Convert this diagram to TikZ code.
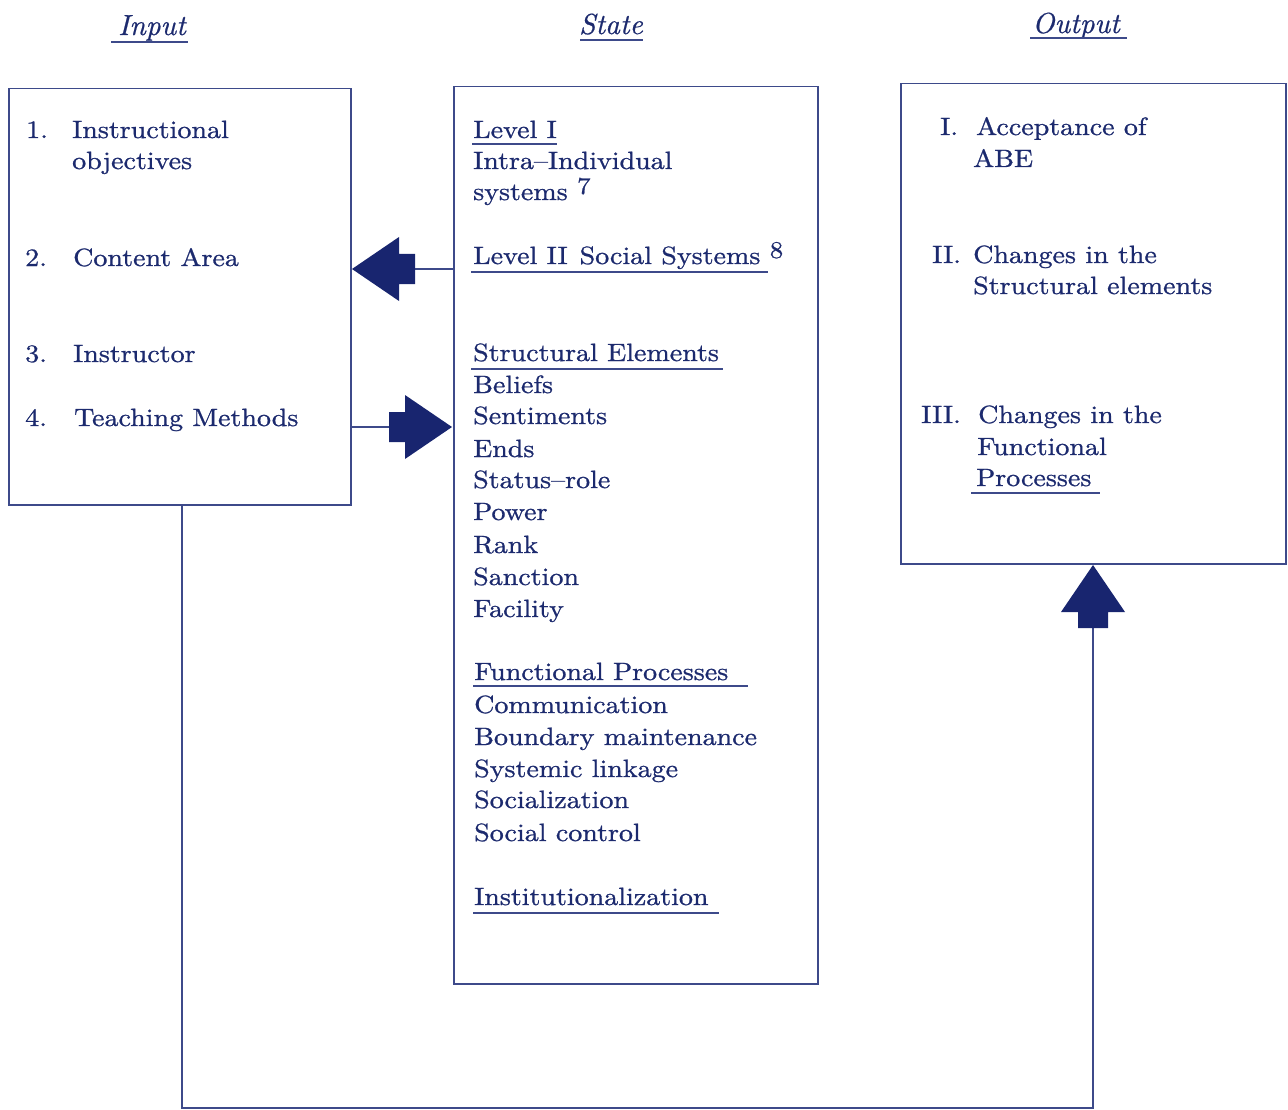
\documentclass[tikz,border=0pt]{standalone}
\usepackage{fontspec}
\setmainfont{lmroman10-regular.otf}[FakeStretch=1.12, FakeBold=0.9]
\newfontfamily\headfont{lmroman10-italic.otf}[FakeBold=0.6]
\usetikzlibrary{calc}
\definecolor{ink}{HTML}{1C2A6E}
\definecolor{rulecol}{HTML}{3D4A8A}
\definecolor{arrowfill}{HTML}{18256F}
\begin{document}
\begin{tikzpicture}[x=1pt,y=-1pt,
  lbl/.style={anchor=base west, inner sep=0pt, text=ink, font=\fontsize{25}{30}\selectfont},
  headlbl/.style={anchor=base, inner sep=0pt, text=ink, font=\headfont\fontsize{29}{34}\selectfont},
  suplbl/.style={anchor=base west, inner sep=0pt, text=ink, font=\fontsize{24}{28}\selectfont},
  box/.style={draw=rulecol, line width=1.5pt, anchor=north west, inner sep=0pt},
  uline/.style={draw=rulecol, line width=1.3pt},
  conn/.style={draw=rulecol, line width=1.5pt},
  fat/.pic={\fill[arrowfill] (0,0) -- (-47,-32) -- (-47,-15) -- (-63,-15) -- (-63,15) -- (-47,15) -- (-47,32) -- cycle;}
]
\useasboundingbox (0,0) rectangle (1288,1110);

% headings
\node[headlbl] (hin) at (152,35) {Input};
\node[headlbl] (hst) at (611,34) {State};
\node[headlbl] (hout) at (1076,33) {Output};
\draw[uline] (111,42) -- (188,42);
\draw[uline] (580,40) -- (643,40);
\draw[uline] (1030,38) -- (1127,38);

% boxes
\node[box, minimum width=342pt, minimum height=416pt] (inbox) at (8,88) {};
\node[box, minimum width=364pt, minimum height=897pt] (statebox) at (453,86) {};
\node[box, minimum width=385pt, minimum height=480pt] (outbox) at (900,83) {};

% input texts
\node[lbl] (n1) at (26,138) {1.};
\node[lbl] (i1) at (72,138) {Instructional};
\node[lbl] (i1b) at (72,169) {objectives};
\node[lbl] (n2) at (25,266) {2.};
\node[lbl] (i2) at (73,266) {Content Area};
\node[lbl] (n3) at (25,362) {3.};
\node[lbl] (i3) at (73,362) {Instructor};
\node[lbl] (n4) at (25,426) {4.};
\node[lbl] (i4) at (74,426) {Teaching Methods};

% state texts
\node[lbl] (s1) at (473,138) {Level I};
\node[lbl] (s2) at (473,169) {Intra–Individual};
\node[lbl] (s3) at (473,200) {systems};
\node[suplbl] (s3sup) at ($(s3.base east)+(9,-6)$) {7};
\node[lbl] (s4) at (473,264) {Level II\hspace{12pt}Social Systems};
\node[suplbl] (s4sup) at ($(s4.base east)+(9,-6)$) {8};
\node[lbl] (s5) at (473,361) {Structural Elements};
\node[lbl] (s6) at (473,393) {Beliefs};
\node[lbl] (s7) at (473,424) {Sentiments};
\node[lbl] (s8) at (473,457) {Ends};
\node[lbl] (s9) at (473,488) {Status–role};
\node[lbl] (s10) at (473,520) {Power};
\node[lbl] (s11) at (473,553) {Rank};
\node[lbl] (s12) at (473,585) {Sanction};
\node[lbl] (s13) at (473,617) {Facility};
\node[lbl] (s14) at (474,680) {Functional Processes};
\node[lbl] (s15) at (474,713) {Communication};
\node[lbl] (s16) at (474,745) {Boundary maintenance};
\node[lbl] (s17) at (474,777) {Systemic linkage};
\node[lbl] (s18) at (474,808) {Socialization};
\node[lbl] (s19) at (474,841) {Social control};
\node[lbl] (s20) at (474,905) {Institutionalization};
\draw[uline] (472,144) -- (557,144);
\draw[uline] (471,272) -- (768,272);
\draw[uline] (471,369) -- (723,369);
\draw[uline] (473,686) -- (748,686);
\draw[uline] (473,913) -- (719,913);

% output texts
\node[lbl] (o1n) at (940,135) {I.};
\node[lbl] (o1) at (976,135) {Acceptance of};
\node[lbl] (o1b) at (973,167) {ABE};
\node[lbl] (o2n) at (932,263) {II.};
\node[lbl] (o2) at (973,263) {Changes in the};
\node[lbl] (o2b) at (973,294) {Structural elements};
\node[lbl] (o3n) at (921,423) {III.};
\node[lbl] (o3) at (978,423) {Changes in the};
\node[lbl] (o3b) at (977,455) {Functional};
\node[lbl] (o3c) at (976,486) {Processes};
\draw[uline] (971,493) -- (1100,493);

% connectors and fat arrows
\coordinate (t1) at (352,269);
\draw[conn] (t1 -| statebox.west) -- ($(t1)+(63,0)$);
\pic[rotate=180] at (t1) {fat};

\coordinate (t2) at (452,427);
\draw[conn] (t2 -| inbox.east) -- ($(t2)+(-60,0)$);
\pic at (t2) {fat};

\coordinate (t3) at (1093,565);
\coordinate (c1) at (1093,1108);
\coordinate (c2) at (182,1108);
\draw[conn] (inbox.south -| c2) -- (c2) -- (c1) -- ($(t3)+(0,62)$);
\pic[rotate=90] at (t3) {fat};
\end{tikzpicture}
\end{document}
